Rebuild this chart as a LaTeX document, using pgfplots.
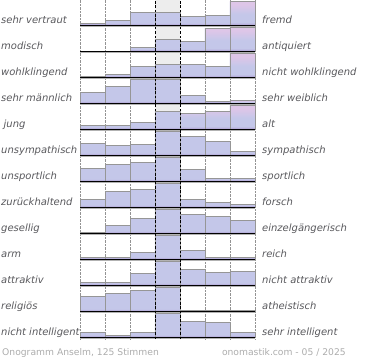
\documentclass[border=0pt]{standalone}
\usepackage{fontspec}
\setmainfont{DejaVu Sans}
\usepackage{pgfplots}
\pgfplotsset{compat=1.18}
\definecolor{lav}{RGB}{196,199,233}
\definecolor{purp}{RGB}{170,152,206}
\definecolor{pinkc}{RGB}{222,198,232}
\definecolor{labc}{RGB}{88,88,92}
\definecolor{footc}{RGB}{172,172,172}
\definecolor{bordc}{RGB}{150,150,150}
\pgfdeclareverticalshading{barblue}{100bp}{color(0bp)=(purp); color(25bp)=(purp); color(30bp)=(lav); color(100bp)=(lav)}
\pgfdeclareverticalshading{barpink}{100bp}{color(0bp)=(purp); color(25bp)=(purp); color(31bp)=(lav); color(48bp)=(lav); color(68bp)=(pinkc); color(100bp)=(pinkc)}
\pgfplotsset{
  rowax/.style={scale only axis, width=175bp, height=24bp, xmin=0, xmax=7, ymin=0, ymax=24,
    axis lines=none, clip=false, anchor=south west},
  bluebar/.style={ybar, bar width=1, bar shift=0pt, shading=barblue, draw=bordc, line width=0.7bp},
  pinkbar/.style={ybar, bar width=1, bar shift=0pt, shading=barpink, draw=bordc, line width=0.7bp},
}
\newcommand\barrow[5]{%
  \begin{axis}[rowax, at={(80bp,-#1bp)}]
    \addplot[bluebar] coordinates {#4};
    #5
    \draw[gray!60, line width=0.8bp] ([yshift=-1.3bp]rel axis cs:0,0) -- ([yshift=-1.3bp]rel axis cs:1,0);
    \draw[black, line width=1.5bp] (rel axis cs:0,0) -- (rel axis cs:1,0);
  \end{axis}
  \node[anchor=base west, inner sep=0pt, text=labc, font=\fontsize{10bp}{12bp}\selectfont\itshape, yshift=1.7bp] at (1bp,-#1bp) {#2};
  \node[anchor=base west, inner sep=0pt, text=labc, font=\fontsize{10bp}{12bp}\selectfont\itshape, yshift=1.7bp] at (262bp,-#1bp) {#3};
}
\begin{document}
\begin{tikzpicture}
\useasboundingbox (0,0) rectangle (370bp,-360bp);
% background: middle column and dotted separators
\begin{axis}[scale only axis, width=175bp, height=339bp, at={(80bp,-339bp)}, anchor=south west,
  xmin=0, xmax=7, ymin=0, ymax=339, xtick={0,1,2,5,6,7}, ytick=\empty, xticklabels={},
  xmajorgrids, major grid style={densely dotted, gray!85, line width=0.6bp},
  axis line style={draw=none}, major tick length=0pt]
  \fill[gray!14] (axis cs:3,0) rectangle (axis cs:4,339);
\end{axis}
\barrow{25.3}{sehr vertraut}{fremd}{(0.5,1.6)(1.5,5)(2.5,13)(3.5,13)(4.5,9.3)(5.5,10.3)(6.5,24)}{\addplot[pinkbar] coordinates {(6.5,24)};}
\barrow{51.3}{modisch}{antiquiert}{(0.5,0)(1.5,0)(2.5,4)(3.5,12.3)(4.5,10)(5.5,23.3)(6.5,24)}{\addplot[pinkbar] coordinates {(5.5,23.3)(6.5,24)};}
\barrow{77.3}{wohlklingend}{nicht wohlklingend}{(0.5,1)(1.5,3)(2.5,10.7)(3.5,13.3)(4.5,12.7)(5.5,10.7)(6.5,24)}{\addplot[pinkbar] coordinates {(6.5,24)};}
\barrow{103.3}{sehr männlich}{sehr weiblich}{(0.5,11)(1.5,17)(2.5,24)(3.5,24)(4.5,7.6)(5.5,1.6)(6.5,3)}{\addplot[pinkbar] coordinates {(6.5,3)};}
\barrow{129.3}{\hspace{2.5bp}jung}{alt}{(0.5,4)(1.5,4.3)(2.5,7)(3.5,18.3)(4.5,16.3)(5.5,17.7)(6.5,24)}{\addplot[pinkbar] coordinates {(4.5,16.3)(5.5,17.7)(6.5,24)};}
\barrow{155.3}{unsympathisch}{sympathisch}{(0.5,12.3)(1.5,10)(2.5,11)(3.5,24)(4.5,19)(5.5,14)(6.5,4.3)}{}
\barrow{181.3}{unsportlich}{sportlich}{(0.5,13)(1.5,17)(2.5,19)(3.5,24)(4.5,11.6)(5.5,2.6)(6.5,2.6)}{}
\barrow{207.3}{zurückhaltend}{forsch}{(0.5,8.3)(1.5,15.6)(2.5,18)(3.5,24)(4.5,8)(5.5,4.6)(6.5,3)}{}
\barrow{233.3}{gesellig}{einzelgängerisch}{(0.5,1)(1.5,8)(2.5,15)(3.5,24)(4.5,19)(5.5,17.3)(6.5,13)}{}
\barrow{259.3}{arm}{reich}{(0.5,2)(1.5,2)(2.5,7)(3.5,24)(4.5,8.6)(5.5,1.6)(6.5,1.6)}{}
\barrow{285.3}{attraktiv}{nicht attraktiv}{(0.5,2.6)(1.5,2.6)(2.5,11.6)(3.5,24)(4.5,16)(5.5,13)(6.5,13.6)}{}
\barrow{311.3}{religiös}{atheistisch}{(0.5,15.3)(1.5,18)(2.5,21)(3.5,24)(4.5,0.6)(5.5,0.6)(6.5,0.6)}{}
\barrow{337.3}{nicht intelligent}{sehr intelligent}{(0.5,5)(1.5,1.6)(2.5,4.6)(3.5,24)(4.5,16)(5.5,14.6)(6.5,5.3)}{}
% foreground: dashed lines around the middle column
\begin{axis}[scale only axis, width=175bp, height=339bp, at={(80bp,-339bp)}, anchor=south west,
  xmin=0, xmax=7, ymin=0, ymax=339, xtick={3,4}, ytick=\empty, xticklabels={},
  xmajorgrids, major grid style={dash pattern=on 2.5bp off 1.8bp, black, line width=0.9bp},
  axis line style={draw=none}, major tick length=0pt]
\end{axis}
\node[anchor=base west, inner sep=0pt, text=footc, font=\fontsize{9.2bp}{11bp}\selectfont] at (2bp,-355bp) {Onogramm Anselm, 125 Stimmen};
\node[anchor=base east, inner sep=0pt, text=footc, font=\fontsize{9.2bp}{11bp}\selectfont] at (346bp,-355bp) {onomastik.com - 05 / 2025};
\end{tikzpicture}
\end{document}
